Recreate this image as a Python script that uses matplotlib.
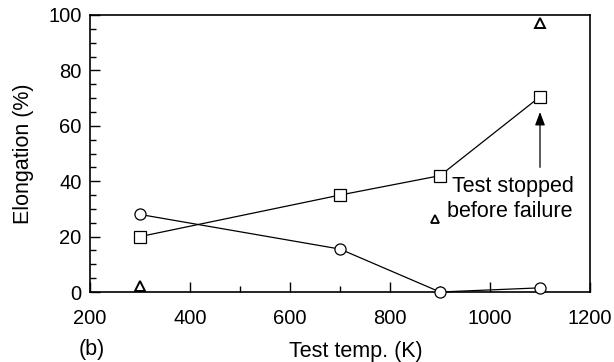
import matplotlib.pyplot as plt
from matplotlib.ticker import MultipleLocator

plt.rcParams['font.family'] = ['Liberation Sans', 'DejaVu Sans']

# data
temp = [300, 700, 900, 1100]
elong_square = [20, 35, 42, 70.5]
elong_circle = [28, 15.5, 0, 1.5]
temp_tri = [300, 1100]
elong_tri = [2, 97]

fig = plt.figure(figsize=(6.14, 3.62), dpi=100)
ax = fig.add_axes([90 / 614, 1 - 292 / 362, 500 / 614, 277 / 362])

ax.plot(temp, elong_square, '-s', color='black', lw=0.9, ms=8,
        mfc='white', mew=0.9, clip_on=False, zorder=3)
ax.plot(temp, elong_circle, '-o', color='black', lw=0.9, ms=8,
        mfc='white', mew=0.9, clip_on=False, zorder=3)
ax.plot(temp_tri, elong_tri, '^', color='black', ls='none', ms=7,
        mfc='white', mew=1.4, clip_on=False, zorder=3)

# legend-like note for the triangle
ax.plot([890], [26.5], '^', color='black', ms=6, mfc='white', mew=1.3)
ax.text(924, 38, 'Test stopped', fontsize=15.5, va='center', ha='left')
ax.text(914, 29, 'before failure', fontsize=15.5, va='center', ha='left')
ax.annotate('', xy=(1100, 66), xytext=(1100, 44),
            arrowprops=dict(arrowstyle='-|>,head_length=0.8,head_width=0.3',
                            color='black', lw=0.9))

ax.set_xlim(200, 1200)
ax.set_ylim(0, 100)
ax.xaxis.set_major_locator(MultipleLocator(200))
ax.xaxis.set_minor_locator(MultipleLocator(100))
ax.yaxis.set_major_locator(MultipleLocator(20))
ax.yaxis.set_minor_locator(MultipleLocator(5))
ax.tick_params(which='both', direction='in', top=False, right=False,
               labelsize=14.5, width=1.0)
ax.tick_params(which='major', length=7)
ax.tick_params(which='minor', length=4)
ax.tick_params(axis='x', pad=12)
ax.tick_params(axis='y', pad=6)
for s in ax.spines.values():
    s.set_linewidth(1.2)

ax.set_ylabel('Elongation (%)', fontsize=15.5, labelpad=10)
fig.text(356 / 614, 1 - 351 / 362, 'Test temp. (K)', fontsize=15.5,
         ha='center', va='center')
fig.text(92 / 614, 1 - 350 / 362, '(b)', fontsize=15.5,
         ha='center', va='center')

fig.savefig('out.png', dpi=100)
